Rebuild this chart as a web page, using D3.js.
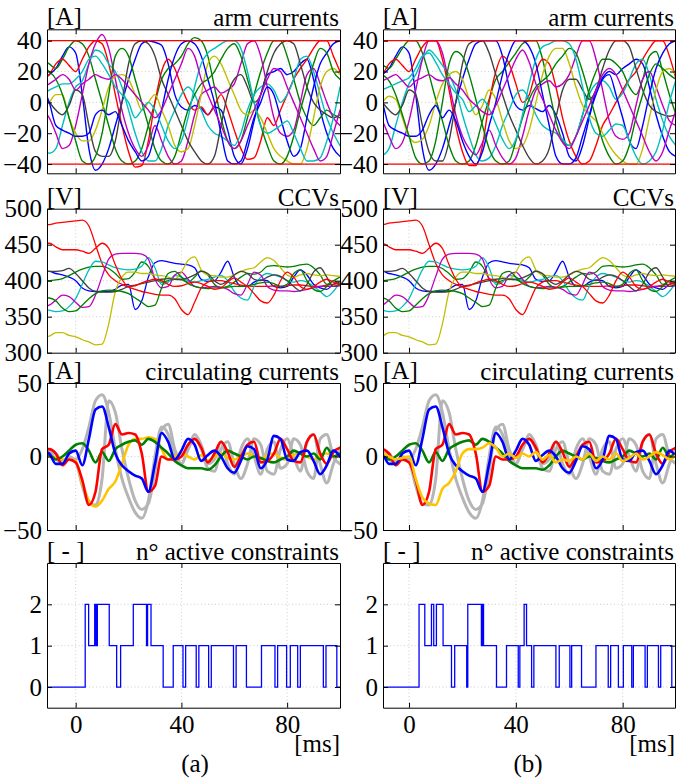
<!DOCTYPE html>
<html><head><meta charset="utf-8">
<script src="https://cdn.jsdelivr.net/npm/d3@7"></script>
<style>body{margin:0;background:#fff} svg text{font-family:'Liberation Serif','Times New Roman','DejaVu Serif',serif !important;}</style>
</head><body><svg id="c" width="676" height="783"></svg>
<script>
// ---------- time grid [ms] ----------
const time = [-12.5,-10,-7.5,-5,-2.5,0,2.5,5,7.5,10,12.5,15,17.5,20,22.5,25,27.5,30,32.5,35,37.5,40,42.5,45,47.5,50,52.5,55,57.5,60,62.5,65,67.5,70,72.5,75,77.5,80,82.5,85,87.5,90,92.5,95,97.5,100];
const xTicks = [0,40,80];
const panelLabels = ["(a)","(b)"];
const armLimits = [40,-40];

// ---------- arm currents (a) [A] ----------
const armA_b1 = [15,18,22,30,36,32,5,-30,-44,-40,-30,-15,0,15,28,38,40,39,37,25,5,-3,-5,-2,-4,-8,-3,-5,-18,-35,-40,-30,-12,5,18,20,22,18,20,25,28,15,-5,-20,-30,-35];
const armA_b2 = [10,0,-15,-18,-20,-22,-22,-20,-8,-5,-8,-6,-15,-25,-32,-38,-35,-20,-5,15,30,38,40,38,30,15,0,-20,-38,-40,-38,-25,-10,0,10,5,-10,-25,-35,-30,-10,10,25,32,38,40];
const armA_g1 = [28,25,22,28,36,40,38,30,15,0,-15,-30,-38,-40,-38,-30,-15,0,15,22,25,30,38,42,40,30,10,-10,-25,-30,-25,-10,5,20,32,40,40,30,15,0,-10,-15,-10,-5,-8,-10];
const armA_g2 = [22,20,15,5,-10,-25,-38,-40,-35,-20,5,30,35,30,15,0,-15,-30,-38,-40,-35,-20,-5,5,12,15,20,28,35,38,30,15,0,-15,-28,-38,-40,-35,-22,-5,10,25,35,32,20,15];
const armA_r  = [15,18,25,28,24,20,28,36,40,38,25,5,-15,-32,-42,-41,-25,0,20,28,22,10,0,-5,-3,-8,-2,5,-5,-18,-30,-37,-36,-25,-10,-15,-5,5,15,22,28,35,40,40,30,20];
const armA_c1 = [-28,-33,-30,-15,0,10,14,25,34,32,25,20,10,-5,-20,-32,-38,-38,-30,-15,-5,5,10,5,-5,-15,-20,-22,-25,-28,-20,-5,5,10,12,8,0,5,15,28,30,20,5,-10,-20,-28];
const armA_c2 = [5,8,10,12,12,15,20,28,30,25,18,10,5,0,-10,-5,0,-5,-15,-25,-30,-25,-10,10,25,32,35,38,40,40,35,20,0,-15,-20,-18,-15,-12,-20,-30,-38,-38,-36,-25,-10,10];
const armA_m1 = [-5,-10,-20,-30,-28,-15,5,25,38,44,35,15,-5,-20,-30,-35,-28,-15,-25,-35,-40,-38,-25,-8,5,8,10,6,8,12,25,38,40,30,10,-10,-20,-22,-18,0,18,22,12,0,-10,-15];
const armA_m2 = [10,12,15,18,15,8,12,15,18,16,15,18,15,10,5,0,-5,-10,-5,5,15,25,35,30,15,5,-5,-15,-25,-30,-25,-15,-5,5,15,22,20,10,0,-10,-20,-30,-38,-35,-20,-5];
const armA_y  = [-5,0,5,5,-10,-20,-25,-25,-18,-5,10,17,18,15,5,-5,0,5,-5,-15,-28,-32,-30,-15,5,25,30,25,15,5,-5,-8,-5,-10,-20,-30,-35,-38,-40,-40,-30,-10,10,20,22,18];
const armA_k  = [5,0,-5,-8,-2,8,5,-15,-32,-35,-35,-25,0,25,38,40,38,30,15,5,-5,-15,-25,-32,-38,-40,-35,-15,5,15,18,10,0,5,20,32,38,40,38,25,10,0,-5,-8,-10,-8];

// ---------- arm currents (b) [A] ----------
const armB_b1 = [15,18,22,30,36,32,5,-30,-44,-40,-30,-15,0,15,28,38,40,40,40,30,10,-2,-5,-2,-4,-6,-2,-8,-20,-35,-38,-28,-10,8,16,20,18,22,25,28,25,10,-8,-22,-32,-35];
const armB_b2 = [10,0,-15,-18,-20,-22,-22,-18,-8,-2,-10,-5,-12,-25,-35,-40,-32,-15,0,18,32,40,40,36,25,5,-15,-35,-40,-40,-36,-22,-8,5,15,18,5,-10,-25,-30,-15,5,22,32,38,40];
const armB_g1 = [22,24,22,28,35,40,40,32,18,2,-12,-28,-38,-40,-38,-28,-12,2,15,20,26,32,38,40,40,28,8,-12,-25,-28,-22,-8,8,20,28,28,25,20,10,5,15,30,33,20,5,-8];
const armB_g2 = [20,18,14,5,-8,-22,-36,-40,-38,-25,0,25,33,30,18,2,-15,-30,-38,-40,-38,-25,-10,2,10,14,18,25,30,35,32,20,5,-10,-25,-35,-40,-38,-28,-10,5,18,25,22,18,15];
const armB_r  = [15,18,25,28,24,20,28,36,40,40,28,8,-15,-32,-41,-41,-28,0,20,30,25,12,0,5,20,28,25,10,-10,-25,-35,-40,-38,-28,-15,-8,0,8,15,20,28,35,40,40,30,15];
const armB_c1 = [-30,-34,-30,-15,0,12,18,28,34,30,24,18,8,-8,-22,-34,-38,-36,-28,-15,-5,5,8,2,-8,-15,-18,-20,-24,-28,-22,-8,5,12,14,10,2,6,15,25,28,18,2,-12,-22,-28];
const armB_c2 = [5,8,10,12,14,16,22,30,32,26,18,12,6,2,-6,-2,2,-4,-14,-24,-30,-24,-8,12,28,36,38,40,40,38,28,10,-10,-20,-22,-18,-14,-15,-25,-35,-40,-38,-32,-18,0,15];
const armB_m1 = [-8,-12,-22,-30,-26,-12,8,28,40,40,32,12,-8,-22,-30,-34,-26,-18,-28,-36,-40,-36,-22,-5,8,12,14,10,12,18,30,40,40,28,8,-12,-22,-24,-20,-2,15,20,10,-2,-12,-15];
const armB_m2 = [12,14,16,18,14,10,14,16,18,15,14,16,12,8,2,-2,-6,-8,-2,8,18,28,34,26,12,2,-8,-18,-26,-30,-22,-12,-2,8,18,22,18,8,-2,-12,-22,-32,-38,-32,-18,-5];
const armB_y  = [-5,0,4,2,-10,-22,-26,-24,-15,0,12,18,20,15,2,-8,-2,8,2,-12,-25,-30,-28,-18,0,18,30,35,35,25,10,-2,-8,-12,-20,-28,-34,-38,-40,-40,-30,-10,8,20,22,18];
const armB_k  = [5,0,-5,-8,-2,8,5,-15,-32,-38,-38,-25,0,25,38,40,40,32,18,5,-8,-18,-28,-36,-40,-38,-30,-10,8,15,15,8,2,8,22,34,40,40,36,22,8,-2,-6,-8,-9,-8];

// ---------- CCVs [V] ----------
const ccv_r1 = [478,478,480,481,482,483,484,476,450,424,408,400,395,391,388,385,383,381,380,380,375,360,353,370,390,398,400,400,398,396,394,393,392,392,392,393,392,393,394,394,393,392,392,394,395,396];
const ccv_r2 = [452,452,447,443,443,443,441,438,445,452,445,422,402,392,393,397,400,402,400,395,392,393,396,398,396,392,388,390,398,404,398,392,382,372,369,380,400,412,405,392,388,392,398,402,398,395];
const ccv_b  = [413,413,410,408,405,400,390,386,385,385,385,388,394,395,360,372,405,425,428,426,424,423,422,418,402,399,400,412,427,405,392,392,398,401,400,392,390,392,405,415,408,395,390,388,395,398];
const ccv_k  = [413,413,413,414,417,410,400,390,385,384,384,385,388,392,394,396,398,400,402,403,402,402,404,408,413,410,400,395,400,408,413,410,402,400,405,408,406,400,392,386,395,412,418,405,392,395];
const ccv_g1 = [400,400,401,403,407,412,416,419,420,420,417,410,402,403,412,426,420,403,398,400,402,401,398,405,414,408,395,390,392,398,405,410,409,412,420,421,420,419,420,422,423,418,408,395,400,405];
const ccv_g2 = [376,376,372,362,357,358,366,375,382,386,387,386,385,382,376,370,364,366,390,410,413,405,396,392,390,389,390,390,391,392,392,393,395,397,398,396,392,395,410,415,400,388,385,392,400,394];
const ccv_m  = [364,366,373,380,378,370,363,364,380,406,430,437,438,438,438,437,430,402,390,392,408,412,402,392,390,391,392,391,388,382,380,395,412,408,392,387,386,386,385,386,388,390,392,392,392,393];
const ccv_c  = [360,359,357,358,364,375,395,415,427,426,422,418,416,415,416,420,432,418,395,398,407,405,400,398,400,402,405,407,400,385,376,373,392,405,410,408,405,400,398,400,398,392,385,378,385,398];
const ccv_y  = [322,323,328,328,324,322,318,315,311,312,340,385,405,412,412,410,410,408,407,405,402,412,428,433,415,408,407,405,405,408,413,416,418,426,432,428,418,408,405,408,410,408,407,408,407,406];

// ---------- circulating currents [A] ----------
const cc_gray1 = [2,3,-2,-4,0,-2,5,20,38,42,30,5,-15,-28,-38,-42,-30,0,20,15,0,-5,5,12,5,-8,-10,5,10,-5,-15,-5,12,8,-10,-12,5,12,0,-10,10,15,-5,-18,-5,5];
const cc_gray2 = [4,4,2,-3,-2,-4,-20,-32,-33,-15,38,30,5,-15,-30,-36,-32,-10,18,22,5,-5,5,15,8,-5,-2,10,-5,-12,5,12,0,-12,5,10,-8,-5,12,8,-10,-15,12,15,0,-5];
const cc_blue  = [4,2,-5,-5,2,4,-6,12,32,34,20,2,-6,-10,-13,-15,-24,-5,16,10,-2,4,12,8,-3,1,4,0,-8,-11,-3,7,5,-8,-2,14,12,-2,-3,3,4,-3,-12,-6,4,0];
const cc_red   = [5,5,2,-6,-2,-4,-16,-33,-24,5,8,22,15,16,15,2,-24,-20,0,-2,-2,0,8,12,6,-4,2,10,3,-7,0,8,10,-4,-3,2,12,5,-3,-4,10,15,2,-5,3,6];
const cc_green = [1,1,-2,0,4,8,9,4,-4,3,-3,5,8,10,11,8,12,10,6,2,-3,-6,-8,-8,-8,-9,-6,0,4,2,0,-2,0,-1,-3,-4,-2,0,4,2,0,2,-2,6,0,2];
const cc_yellowA = [0,0,-1,-2,-2,-3,-18,-30,-34,-30,-22,-17,-5,8,12,12,13,12,5,-2,0,2,0,-2,1,-3,0,2,-1,-2,0,2,0,-2,1,2,-1,-2,1,2,0,-2,1,2,0,1];
const cc_yellowB = [2,2,0,-2,-1,0,-15,-28,-32,-33,-22,-18,-10,2,5,5,6,9,6,0,2,-1,2,0,3,-2,1,-4,-2,-3,0,-2,2,-3,0,-2,2,-3,-1,2,-2,0,3,1,-2,1];

// ---------- active constraints (step changes) ----------
const consA_t = [-12,3.6,4.9,7.2,7.7,8.2,12.7,15.5,17.0,21.8,26.8,27.2,28.5,33.1,36.9,40.6,41.6,45.6,46.6,50.3,51.3,59.7,60.7,64.6,70.3,75.4,76.4,79.8,81.2,84.0,85.0,93.7,94.7,98.8,101];
const consA_v = [0,2,1,2,1,2,1,0,1,2,1,2,1,0,1,0,1,0,1,0,1,0,1,0,1,0,1,0,1,0,1,0,1,0,0];
const consB_t = [-12,3.75,5.9,8.4,9.25,10.25,12.75,15.9,17.1,21.6,22.0,27.1,27.5,27.9,32.75,36.5,40.9,41.5,43.1,44.0,45.9,46.75,55.0,56.25,60.25,60.9,64.6,70.0,74.6,75.5,78.4,80.25,83.4,84.0,88.4,89.25,93.4,94.25,98.4,101];
const consB_v = [0,2,1,2,1,2,1,0,1,0,2,1,2,1,0,1,0,1,2,1,0,1,0,1,0,1,0,1,0,1,0,1,0,1,0,1,0,1,0,0];

// ---------- styling / layout ----------
const COL = {b:'#0000ff', g:'#008000', r:'#ff0000', c:'#00bfbf', m:'#bf00bf', y:'#bfbf00', k:'#404040'};
const FONT = "'Liberation Serif','Times New Roman','DejaVu Serif',serif";
const FS = 25;
const cols = [
  {x0:47, x1:340, dom:[-10.85,100]},
  {x0:383, x1:675, dom:[-9.75,99.6]}
];
const rows = [
  {y0:29.3, y1:173.3, dom:[-46,47.4], ticks:[-40,-20,0,20,40], unit:'[A]', title:'arm currents'},
  {y0:208.7, y1:352.7, dom:[300,500], ticks:[300,350,400,450,500], unit:'[V]', title:'CCVs'},
  {y0:383, y1:530, dom:[-50,50], ticks:[-50,0,50], unit:'[A]', title:'circulating currents'},
  {y0:563, y1:707.7, dom:[-0.5,3], ticks:[0,1,2], unit:'[ - ]', title:'n\u00B0 active constraints'}
];

const svg = d3.select('#c');
let clipN = 0;

function txt(sel){ return sel.style('font-family', FONT).attr('font-size', FS).attr('fill', '#000'); }

function panel(col, row, isBottom, content){
  const x = d3.scaleLinear().domain(col.dom).range([col.x0, col.x1]);
  const y = d3.scaleLinear().domain(row.dom).range([row.y1, row.y0]);
  const g = svg.append('g');
  const id = 'clip' + (clipN++);
  g.append('clipPath').attr('id', id).append('rect')
    .attr('x', col.x0).attr('y', row.y0).attr('width', col.x1 - col.x0).attr('height', row.y1 - row.y0);
  // grid
  const grid = g.append('g').attr('stroke', '#c4c4c4').attr('stroke-width', 0.8).attr('stroke-dasharray', '1,2.5');
  xTicks.forEach(v => grid.append('line').attr('x1', x(v)).attr('x2', x(v)).attr('y1', row.y0).attr('y2', row.y1));
  row.ticks.filter(v => v > row.dom[0] && v < row.dom[1]).forEach(v =>
    grid.append('line').attr('x1', col.x0).attr('x2', col.x1).attr('y1', y(v)).attr('y2', y(v)));
  const inner = g.append('g').attr('clip-path', `url(#${id})`);
  content(inner, x, y);
  // axes
  const styleAxis = sel => {
    sel.attr('font-size', FS);
    sel.selectAll('path.domain').attr('stroke', '#000').attr('stroke-width', 1);
    sel.selectAll('.tick line').attr('stroke', '#000').attr('stroke-width', 1);
    sel.selectAll('text').call(txt);
  };
  g.append('g').attr('transform', `translate(${col.x0},0)`)
    .call(d3.axisLeft(y).tickValues(row.ticks).tickSizeInner(-5).tickSizeOuter(0).tickPadding(5).tickFormat(d3.format('d')))
    .call(styleAxis);
  g.append('g').attr('transform', `translate(${col.x1},0)`)
    .call(d3.axisRight(y).tickValues(row.ticks).tickSizeInner(-5).tickSizeOuter(0).tickFormat(''))
    .call(styleAxis);
  g.append('g').attr('transform', `translate(0,${row.y0})`)
    .call(d3.axisTop(x).tickValues(xTicks).tickSizeInner(-5).tickSizeOuter(0).tickFormat(''))
    .call(styleAxis);
  g.append('g').attr('transform', `translate(0,${row.y1})`)
    .call(d3.axisBottom(x).tickValues(xTicks).tickSizeInner(-5).tickSizeOuter(0).tickPadding(8)
      .tickFormat(isBottom ? d3.format('d') : ''))
    .call(styleAxis);
  // labels
  g.append('text').attr('x', col.x0).attr('y', row.y0 - 4).text(row.unit).call(txt);
  g.append('text').attr('x', col.x1 - 1).attr('y', row.y0 - 3).attr('text-anchor', 'end').text(row.title).call(txt);
  return {x, y};
}

function drawLines(g, x, y, series, width, curve){
  const line = d3.line().x((d, i) => x(time[i])).y(d => y(d)).curve(curve || d3.curveMonotoneX);
  series.forEach(s => g.append('path').datum(s.v).attr('d', line)
    .attr('fill', 'none').attr('stroke', s.c).attr('stroke-width', s.w || width)
    .attr('stroke-linejoin', 'round').attr('stroke-linecap', 'round'));
}

const armSets = [
  [{v:armA_b1,c:COL.b},{v:armA_g1,c:COL.g},{v:armA_r,c:COL.r},{v:armA_c1,c:COL.c},{v:armA_m1,c:COL.m},{v:armA_y,c:COL.y},{v:armA_k,c:COL.k},{v:armA_b2,c:COL.b},{v:armA_g2,c:COL.g},{v:armA_c2,c:COL.c},{v:armA_m2,c:COL.m}],
  [{v:armB_b1,c:COL.b},{v:armB_g1,c:COL.g},{v:armB_r,c:COL.r},{v:armB_c1,c:COL.c},{v:armB_m1,c:COL.m},{v:armB_y,c:COL.y},{v:armB_k,c:COL.k},{v:armB_b2,c:COL.b},{v:armB_g2,c:COL.g},{v:armB_c2,c:COL.c},{v:armB_m2,c:COL.m}]
];
const ccvSet = [{v:ccv_b,c:COL.b},{v:ccv_g1,c:COL.g},{v:ccv_r1,c:COL.r},{v:ccv_c,c:COL.c},{v:ccv_m,c:COL.m},{v:ccv_y,c:COL.y},{v:ccv_k,c:COL.k},{v:ccv_g2,c:COL.g},{v:ccv_r2,c:COL.r}];
const ccSets = [
  [{v:cc_gray1,c:'#b5b5b5',w:3},{v:cc_gray2,c:'#b5b5b5',w:3},{v:cc_yellowA,c:'#ffc400'},{v:cc_green,c:'#008000'},{v:cc_red,c:'#ff0000'},{v:cc_blue,c:'#0000ff'}],
  [{v:cc_gray1,c:'#b5b5b5',w:3},{v:cc_gray2,c:'#b5b5b5',w:3},{v:cc_green,c:'#008000'},{v:cc_red,c:'#ff0000'},{v:cc_blue,c:'#0000ff'},{v:cc_yellowB,c:'#ffc400'}]
];
const consSets = [[consA_t, consA_v],[consB_t, consB_v]];

cols.forEach((col, ci) => {
  panel(col, rows[0], false, (g, x, y) => {
    drawLines(g, x, y, armSets[ci], 1.4);
    armLimits.forEach(v => g.append('line').attr('x1', col.x0).attr('x2', col.x1)
      .attr('y1', y(v)).attr('y2', y(v)).attr('stroke', '#ff0000').attr('stroke-width', 1.2));
  });
  panel(col, rows[1], false, (g, x, y) => drawLines(g, x, y, ccvSet, 1.3));
  panel(col, rows[2], false, (g, x, y) => drawLines(g, x, y, ccSets[ci], 2.6));
  panel(col, rows[3], true, (g, x, y) => {
    const [ts, vs] = consSets[ci];
    const line = d3.line().x((d, i) => x(ts[i])).y(d => y(d)).curve(d3.curveStepAfter);
    g.append('path').datum(vs).attr('d', line).attr('fill', 'none')
      .attr('stroke', '#0000ff').attr('stroke-width', 1.3);
  });
  svg.append('text').attr('x', col.x1).attr('y', 752).attr('text-anchor', 'end').text('[ms]').call(txt);
  svg.append('text').attr('x', ci === 0 ? 195 : 528).attr('y', 772).attr('text-anchor', 'middle').text(panelLabels[ci]).call(txt);
});
</script></body></html>
